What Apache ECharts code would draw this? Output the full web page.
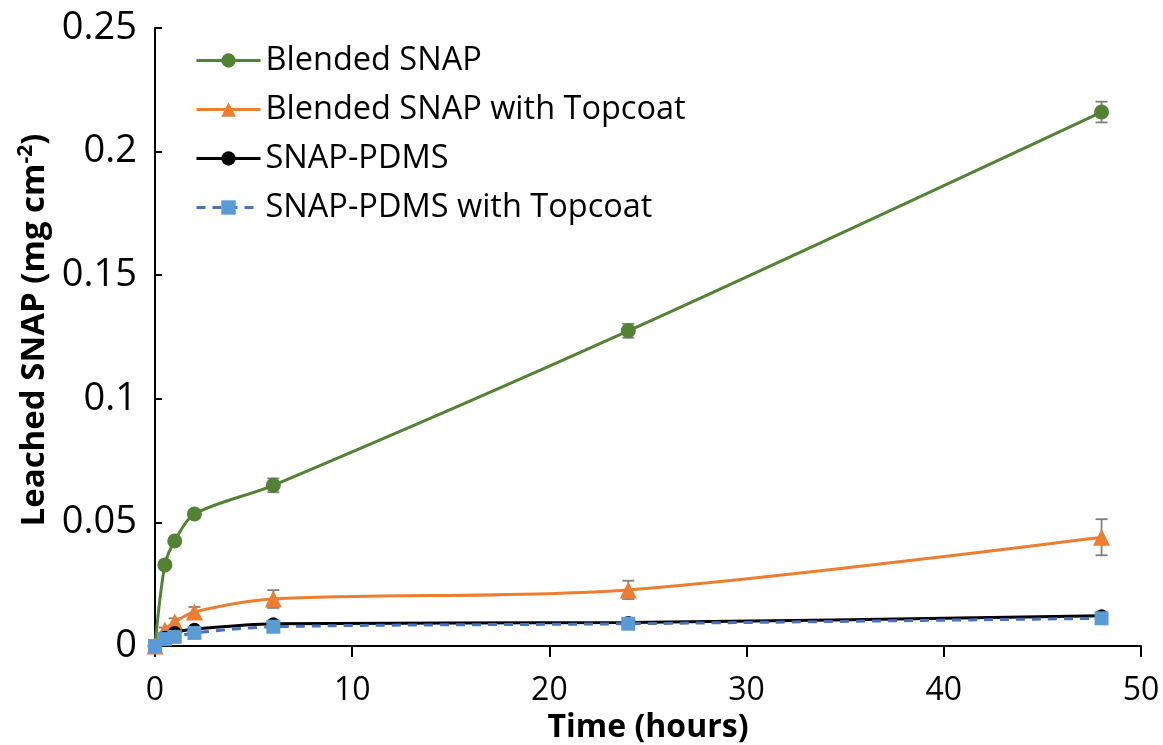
<!DOCTYPE html>
<html>
<head>
<meta charset="utf-8">
<script src="https://cdn.jsdelivr.net/npm/echarts@6/dist/echarts.min.js"></script>
<style>
html,body{margin:0;padding:0;background:#fff;}
#chart{width:1163px;height:745px;}
</style>
</head>
<body>
<div id="chart"></div>
<script>
const times = [0, 0.5, 1, 2, 6, 24, 48];
const blendedSNAP = [0, 0.0328, 0.0425, 0.0534, 0.0650, 0.1275, 0.2160];
const blendedSNAPErr = [0, 0.0008, 0.0010, 0.0015, 0.0028, 0.0028, 0.0042];
const blendedTopcoat = [0, 0.0065, 0.0097, 0.0138, 0.0190, 0.0227, 0.0440];
const blendedTopcoatErr = [0, 0.0010, 0.0015, 0.0020, 0.0036, 0.0037, 0.0073];
const snapPDMS = [0, 0.0035, 0.0055, 0.0068, 0.0090, 0.0095, 0.0122];
const snapPDMSErr = [0, 0.0005, 0.0006, 0.0008, 0.0008, 0.0008, 0.0010];
const snapPDMSTopcoat = [0, 0.0028, 0.0037, 0.0053, 0.0078, 0.0090, 0.0112];
const snapPDMSTopcoatErr = [0, 0.0004, 0.0005, 0.0006, 0.0007, 0.0007, 0.0008];
const seriesNames = ['Blended SNAP', 'Blended SNAP with Topcoat', 'SNAP-PDMS', 'SNAP-PDMS with Topcoat'];
const xTickLabels = ['0', '10', '20', '30', '40', '50'];
const yTickLabels = ['0', '0.05', '0.1', '0.15', '0.2', '0.25'];

const FONT = '"Open Sans", "Noto Sans", sans-serif';

function pairs(vals) { return times.map((t, i) => [t, vals[i]]); }
function errData(vals, errs) { return times.map((t, i) => [t, vals[i], errs[i]]); }

function errorSeries(vals, errs) {
  return {
    type: 'custom',
    data: errData(vals, errs),
    z: 1,
    silent: true,
    encode: { x: 0, y: 1 },
    renderItem: function (params, api) {
      const x = api.value(0), y = api.value(1), e = api.value(2);
      if (!e) return null;
      const hi = api.coord([x, y + e]);
      const lo = api.coord([x, y - e]);
      const cap = 6;
      const style = { stroke: '#7f7f7f', lineWidth: 1.8 };
      return {
        type: 'group',
        children: [
          { type: 'line', shape: { x1: hi[0], y1: hi[1], x2: lo[0], y2: lo[1] }, style: style },
          { type: 'line', shape: { x1: hi[0] - cap, y1: hi[1], x2: hi[0] + cap, y2: hi[1] }, style: style },
          { type: 'line', shape: { x1: lo[0] - cap, y1: lo[1], x2: lo[0] + cap, y2: lo[1] }, style: style }
        ]
      };
    }
  };
}

const chart = echarts.init(document.getElementById('chart'), null, { renderer: 'canvas' });
chart.setOption({
  backgroundColor: '#fff',
  animation: false,
  grid: { left: 155, right: 22, top: 28, bottom: 99, containLabel: false, outerBoundsMode: 'none' },
  legend: {
    orient: 'vertical',
    left: 190,
    top: 35,
    itemWidth: 64,
    itemHeight: 18,
    itemGap: 8,
    lineStyle: { width: 3 },
    textStyle: { fontFamily: FONT, fontSize: 32.5, color: '#000', lineHeight: 41 },
    data: seriesNames
  },
  xAxis: {
    type: 'value',
    min: 0, max: 50, interval: 10,
    name: 'Time (hours)',
    nameLocation: 'middle',
    nameGap: 62,
    nameTextStyle: { fontFamily: FONT, fontSize: 32, fontWeight: 'bold', color: '#000' },
    axisLine: { show: true, onZero: false, lineStyle: { color: '#000', width: 2 } },
    axisTick: { show: true, inside: false, length: 11, lineStyle: { color: '#000', width: 2 } },
    axisLabel: {
      fontFamily: FONT, fontSize: 32, color: '#000', margin: 29,
      formatter: function (v) { return xTickLabels[Math.round(v / 10)]; }
    },
    splitLine: { show: false }
  },
  yAxis: {
    type: 'value',
    min: 0, max: 0.25, interval: 0.05,
    name: '{a|Leached SNAP (mg cm}{s|-2}{a|)}',
    nameLocation: 'middle',
    nameRotate: 90,
    nameGap: 101,
    nameTextStyle: {
      padding: [0, 0, 0, 14],
      rich: {
        a: { fontFamily: FONT, fontSize: 33, fontWeight: 'bold', color: '#000' },
        s: { fontFamily: FONT, fontSize: 21, fontWeight: 'bold', color: '#000', verticalAlign: 'top', padding: [0, 0, 16, 0] }
      }
    },
    axisLine: { show: true, lineStyle: { color: '#000', width: 2 } },
    axisTick: { show: true, inside: true, length: 7, lineStyle: { color: '#000', width: 2 } },
    axisLabel: {
      fontFamily: FONT, fontSize: 38, color: '#000', margin: 18,
      formatter: function (v) { return yTickLabels[Math.round(v / 0.05)]; }
    },
    splitLine: { show: false }
  },
  series: [
    errorSeries(blendedSNAP, blendedSNAPErr),
    errorSeries(blendedTopcoat, blendedTopcoatErr),
    errorSeries(snapPDMS, snapPDMSErr),
    errorSeries(snapPDMSTopcoat, snapPDMSTopcoatErr),
    {
      name: seriesNames[0], type: 'line', data: pairs(blendedSNAP), z: 3,
      smooth: 0.3,
      symbol: 'circle', symbolSize: 15,
      lineStyle: { color: '#548235', width: 3 },
      itemStyle: { color: '#548235' }
    },
    {
      name: seriesNames[1], type: 'line', data: pairs(blendedTopcoat), z: 4,
      smooth: 0.3,
      symbol: 'triangle', symbolSize: 17,
      lineStyle: { color: '#ED7D31', width: 3 },
      itemStyle: { color: '#ED7D31' }
    },
    {
      name: seriesNames[2], type: 'line', data: pairs(snapPDMS), z: 5,
      smooth: 0.3,
      symbol: 'circle', symbolSize: 13,
      lineStyle: { color: '#000000', width: 3 },
      itemStyle: { color: '#000000' }
    },
    {
      name: seriesNames[3], type: 'line', data: pairs(snapPDMSTopcoat), z: 6,
      smooth: 0.3,
      symbol: 'rect', symbolSize: 14,
      lineStyle: { color: '#4472C4', width: 3, type: [9, 7] },
      itemStyle: { color: '#5B9BD5' }
    }
  ]
});
</script>
</body>
</html>
